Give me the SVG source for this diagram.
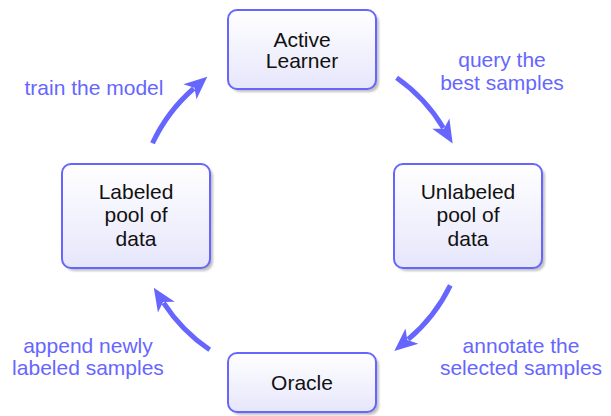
<svg xmlns="http://www.w3.org/2000/svg" width="611" height="416" viewBox="0 0 611 416">
  <style>
    .box { fill: url(#boxFill); stroke: #6666ff; stroke-width: 2; }
    .shadow { fill: #8c8c8c; opacity: 0.55; filter: url(#soft); }
    .node-text { font-family: "Liberation Sans", Arial, Helvetica, sans-serif; font-size: 21px; fill: #111; text-anchor: middle; }
    .label { font-family: "Liberation Sans", Arial, Helvetica, sans-serif; font-size: 21px; fill: #6666ff; text-anchor: middle; }
    .flow { fill: none; stroke: #6666ff; stroke-width: 5; marker-end: url(#head); }
  </style>
  <defs>
    <linearGradient id="boxFill" x1="0" y1="0" x2="0" y2="1">
      <stop offset="0" stop-color="#ffffff"/>
      <stop offset="1" stop-color="#e6e6fc"/>
    </linearGradient>
    <filter id="soft" x="-10%" y="-10%" width="120%" height="120%">
      <feGaussianBlur stdDeviation="1.2"/>
    </filter>
    <marker id="head" markerUnits="userSpaceOnUse" viewBox="-7 -11 27 22" refX="0" refY="0" markerWidth="27" markerHeight="22" orient="auto">
      <path d="M18,0 L-5,-10 L1,0 L-5,10 Z" fill="#6666ff"/>
    </marker>
  </defs>

  <!-- cycle arrows on a circle centred at (302,213), r = 165 -->
  <g id="connectors">
    <path class="flow" d="M396.6,77.8 A165,165 0 0 1 443.4,128.0"/>
    <path class="flow" d="M450.3,285.3 A165,165 0 0 1 408.1,339.4"/>
    <path class="flow" d="M209.7,349.8 A165,165 0 0 1 163.6,302.9"/>
    <path class="flow" d="M152.5,143.3 A165,165 0 0 1 193.7,88.5"/>
  </g>

  <g id="active-learner">
    <rect class="shadow" x="231" y="13" width="148" height="79" rx="9"/>
    <rect class="box" x="228" y="10" width="148" height="79" rx="9"/>
    <text class="node-text" x="302" y="47">Active</text>
    <text class="node-text" x="302" y="68">Learner</text>
  </g>

  <g id="unlabeled-pool">
    <rect class="shadow" x="397" y="167" width="148" height="104" rx="9"/>
    <rect class="box" x="394" y="164" width="148" height="104" rx="9"/>
    <text class="node-text" x="468" y="199">Unlabeled</text>
    <text class="node-text" x="468" y="222">pool of</text>
    <text class="node-text" x="468" y="246">data</text>
  </g>

  <g id="oracle">
    <rect class="shadow" x="231" y="356" width="148" height="59" rx="9"/>
    <rect class="box" x="228" y="353" width="148" height="59" rx="9"/>
    <text class="node-text" x="302" y="390">Oracle</text>
  </g>

  <g id="labeled-pool">
    <rect class="shadow" x="65" y="167" width="148" height="104" rx="9"/>
    <rect class="box" x="62" y="164" width="148" height="104" rx="9"/>
    <text class="node-text" x="136" y="199">Labeled</text>
    <text class="node-text" x="136" y="222">pool of</text>
    <text class="node-text" x="136" y="246">data</text>
  </g>

  <g id="edge-labels">
    <text class="label" x="502" y="67">query the</text>
    <text class="label" x="502" y="90">best samples</text>
    <text class="label" x="521" y="353">annotate the</text>
    <text class="label" x="521" y="375">selected samples</text>
    <text class="label" x="88" y="353">append newly</text>
    <text class="label" x="88" y="375">labeled samples</text>
    <text class="label" x="94" y="95">train the model</text>
  </g>
</svg>
